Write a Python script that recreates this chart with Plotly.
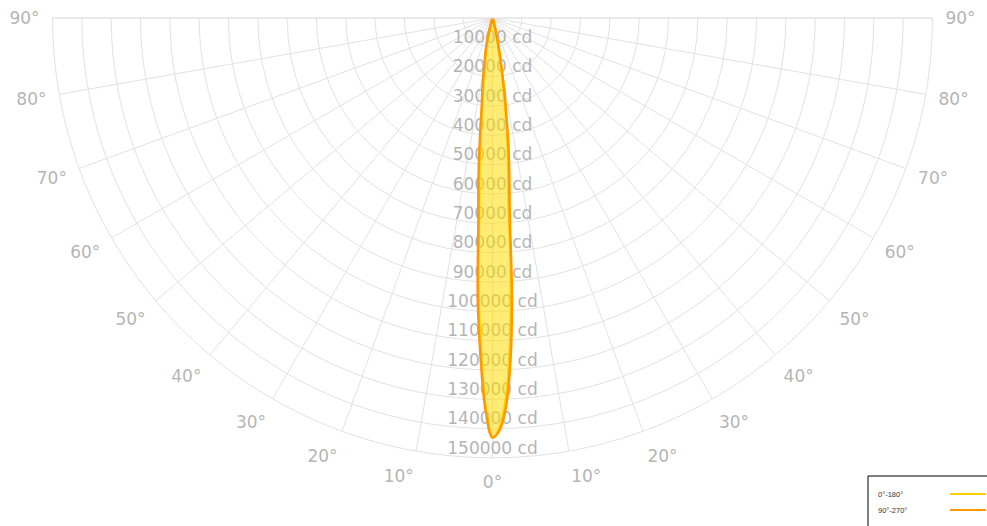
import plotly.graph_objects as go

# ---- data ----
theta_deg = [-90, -20, -17, -16, -15, -14, -13, -12, -11, -10, -9, -8, -7, -6, -5, -4, -3, -2, -1,
             0, 1, 2, 3, 4, 5, 6, 7, 8, 9, 10, 11, 12, 13, 14, 15, 16, 17, 20, 90]
c0_180 = [0, 0, 0, 800, 2500, 5500, 8000, 10000, 12000, 14500, 18500, 23000, 28000, 38000, 51000,
          65000, 92000, 113000, 133000,
          143000, 139500, 130000, 113000, 90000, 63000, 51000, 41500, 32000, 24500, 17500, 13000,
          9200, 6500, 3500, 1700, 400, 0, 0, 0]
c90_270 = [0, 0, 0, 1000, 3000, 6000, 8700, 10800, 13000, 15500, 20000, 25000, 30000, 41000, 55000,
           69000, 96000, 116000, 134000,
           143000, 140500, 132500, 117000, 95000, 67500, 55000, 45000, 34500, 26500, 19000, 14000,
           10000, 7000, 4000, 2000, 500, 0, 0, 0]
series_names = ["0°-180°", "90°-270°"]
radial_ticks = list(range(10000, 150001, 10000))
radial_labels = [f"{v} cd" for v in radial_ticks]
angle_ticks = list(range(-90, 91, 10))
angle_labels = [f"{abs(a)}°" for a in angle_ticks]

# ---- style ----
W, H = 987, 526
ML, MR, MT, MB = 52, 54, 18, 68
R_MAX = 150000
GRID = "#e2e2e2"
LABEL = "#b5b5b5"
FONT = "DejaVu Sans"
YELLOW = "#FFCC00"
ORANGE = "#FF9900"

fig = go.Figure()

# radial tick labels along the 0° line
fig.add_trace(go.Scatterpolar(
    r=radial_ticks, theta=[0] * len(radial_ticks), mode="text", text=radial_labels,
    textposition="top center", textfont=dict(family=FONT, size=17, color=LABEL),
    showlegend=False, hoverinfo="skip"))

fig.add_trace(go.Scatterpolar(
    r=c0_180, theta=theta_deg, mode="lines", name=series_names[0],
    line=dict(color=YELLOW, width=2.5, shape="spline", smoothing=1),
    fill="toself", fillcolor="rgba(255,221,0,0.32)", showlegend=False))

fig.add_trace(go.Scatterpolar(
    r=c90_270, theta=theta_deg, mode="lines", name=series_names[1],
    line=dict(color=ORANGE, width=2.5, shape="spline", smoothing=1),
    fill="toself", fillcolor="rgba(255,221,0,0.32)", showlegend=False))

pw, ph = W - ML - MR, H - MT - MB


def px2x(x):
    return (x - ML) / pw


def px2y(y):
    return (H - MB - y) / ph


shapes = [
    dict(type="rect", xref="paper", yref="paper", x0=px2x(868), x1=px2x(995), y0=px2y(476), y1=px2y(535),
         line=dict(color="#000000", width=1), fillcolor="white", layer="above"),
    dict(type="line", xref="paper", yref="paper", x0=px2x(950), x1=px2x(986), y0=px2y(494), y1=px2y(494),
         line=dict(color=YELLOW, width=2), layer="above"),
    dict(type="line", xref="paper", yref="paper", x0=px2x(950), x1=px2x(986), y0=px2y(510), y1=px2y(510),
         line=dict(color=ORANGE, width=2), layer="above"),
]
annotations = [
    dict(text=series_names[0], xref="paper", yref="paper", x=px2x(876), y=px2y(494), xanchor="left",
         yanchor="middle", showarrow=False, font=dict(family="Liberation Sans", size=7.5, color="#333")),
    dict(text=series_names[1], xref="paper", yref="paper", x=px2x(876), y=px2y(510), xanchor="left",
         yanchor="middle", showarrow=False, font=dict(family="Liberation Sans", size=7.5, color="#333")),
]

fig.update_layout(
    width=W, height=H,
    margin=dict(l=ML, r=MR, t=MT, b=MB),
    paper_bgcolor="white",
    showlegend=False,
    shapes=shapes,
    annotations=annotations,
    polar=dict(
        sector=[180, 360],
        bgcolor="white",
        angularaxis=dict(
            rotation=270, direction="counterclockwise",
            tickmode="array", tickvals=[a + 360 for a in angle_ticks], ticktext=angle_labels,
            showgrid=True, gridcolor=GRID, gridwidth=1,
            showline=True, linecolor=GRID, linewidth=1,
            ticks="outside", ticklen=9, tickcolor="rgba(0,0,0,0)",
            tickfont=dict(family=FONT, size=17, color=LABEL),
        ),
        radialaxis=dict(
            range=[0, R_MAX], tickmode="linear", tick0=0, dtick=10000,
            showticklabels=False, ticks="", showline=False,
            showgrid=True, gridcolor=GRID, gridwidth=1, angle=270,
        ),
    ),
)

fig.write_html("out.html", post_script="document.body.style.margin='0';",
               config={"displayModeBar": False})
